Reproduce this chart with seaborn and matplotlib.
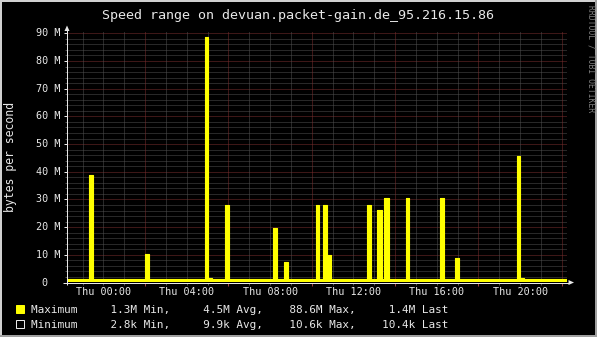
import numpy as np
import pandas as pd
import matplotlib
matplotlib.use("Agg")
import matplotlib.pyplot as plt
from matplotlib.patches import Rectangle, Polygon
import seaborn as sns

# ---------------- data (hours relative to Thu 00:00, values in MB/s) ----------------
title = "Speed range on devuan.packet-gain.de_95.216.15.86"
ylabel = "bytes per second"
x_tick_hours = [0, 4, 8, 12, 16, 20]
x_tick_labels = ["Thu 00:00", "Thu 04:00", "Thu 08:00", "Thu 12:00", "Thu 16:00", "Thu 20:00"]
y_tick_values = [0, 10, 20, 30, 40, 50, 60, 70, 80, 90]
y_tick_labels = ["0", "10 M", "20 M", "30 M", "40 M", "50 M", "60 M", "70 M", "80 M", "90 M"]

baseline_max = 1.3
spike_start = [-0.68, 1.99, 4.87, 5.03, 5.83, 8.15, 8.67, 10.19, 10.54, 10.72,
               12.66, 13.14, 13.48, 14.51, 16.17, 16.87, 19.84, 20.00]
spike_end = [-0.49, 2.18, 5.03, 5.21, 6.02, 8.34, 8.87, 10.36, 10.72, 10.91,
             12.84, 13.37, 13.71, 14.68, 16.36, 17.08, 20.00, 20.19]
spike_value = [38.8, 10.3, 88.6, 1.8, 28.0, 19.8, 7.4, 28.0, 28.0, 9.9,
               28.0, 26.2, 30.5, 30.5, 30.5, 8.8, 45.8, 1.8]
minimum_level = 0.0104  # ~10k

legend_rows = [
    ("Maximum", "     1.3M Min,     4.5M Avg,    88.6M Max,     1.4M Last"),
    ("Minimum", "     2.8k Min,     9.9k Avg,    10.6k Max,    10.4k Last"),
]
watermark = "RRDTOOL / TOBI OETIKER"

# ---------------- layout ----------------
W, H = 597, 337
X0, X1 = 67, 567          # plot area in px
YT, YB = 32, 282.5        # plot area top/bottom in px (from top)
XMIN, XMAX = -1.75, 22.25
YMAX = (YB - YT) / 27.69 * 10

YELLOW = "#FFFF00"
WHITE = "#e8e8e8"
MINOR = "#505050"
MAJOR = "#7a2e2e"
MONO = "DejaVu Sans Mono"

sns.set_theme(style="dark", rc={"axes.facecolor": "black", "figure.facecolor": "black"})
plt.rcParams["font.family"] = [MONO, "DejaVu Sans"]
plt.rcParams["lines.scale_dashes"] = False

fig = plt.figure(figsize=(W / 100, H / 100), dpi=100)
fig.patch.set_facecolor("black")
ax = fig.add_axes([X0 / W, (H - YB) / H, (X1 - X0) / W, (YB - YT) / H])
ax.set_facecolor("black")
ax.set_xlim(XMIN, XMAX)
ax.set_ylim(0, YMAX)
for s in ax.spines.values():
    s.set_visible(False)
ax.grid(False)


def ax_px(px, py):
    return ((px - X0) / (X1 - X0), (YB - py) / (YB - YT))


# ---------------- grid (dotted, 1px on / 1px off) ----------------
DOT = (0, (0.72, 0.72))
for yv in np.arange(2, 91, 2):
    major = (yv % 10 == 0)
    ax.axhline(yv, color=MAJOR if major else MINOR, lw=0.72, ls=DOT, zorder=1)
for hv in range(-1, 23):
    major = ((hv - 2) % 4 == 0)
    ax.axvline(hv, color=MAJOR if major else MINOR, lw=0.72, ls=DOT, zorder=1)

# ---------------- data series ----------------
t = [XMIN]
v = [baseline_max]
for s, e, val in zip(spike_start, spike_end, spike_value):
    t += [s, e]
    v += [val, baseline_max]
t.append(XMAX)
v.append(baseline_max)
df = pd.DataFrame({"hour": t, "value": v})

ax.fill_between(df["hour"], df["value"], step="post", color=YELLOW, lw=0, zorder=2)
sns.lineplot(data=df, x="hour", y="value", sort=False, estimator=None,
             drawstyle="steps-post", color=YELLOW, lw=0.8, ax=ax, zorder=3)
ax.fill_between([XMIN, XMAX], [minimum_level, minimum_level], color="black", lw=0, zorder=3)
ax.set_xlabel("")
ax.set_ylabel("")

# ---------------- ticks ----------------
ax.set_xticks([2, 6, 10, 14, 18, 22])
ax.set_xticks(list(range(-1, 23)), minor=True)
ax.set_yticks(y_tick_values)
ax.set_yticks(list(range(0, 91, 2)), minor=True)
ax.tick_params(axis="x", which="major", direction="out", length=3 * 0.72, width=0.72,
               color="#a04040", labelbottom=False, bottom=True)
ax.tick_params(axis="x", which="minor", direction="out", length=2 * 0.72, width=0.72,
               color=MINOR, bottom=True)
ax.tick_params(axis="y", which="major", direction="out", length=3 * 0.72, width=0.72,
               color=WHITE, labelleft=False, left=True)
ax.tick_params(axis="y", which="minor", direction="out", length=2 * 0.72, width=0.72,
               color=MINOR, left=True)

# axis lines + arrows
ax.plot([ax_px(X0, 0)[0]] * 2, [ax_px(0, 285)[1], ax_px(0, 29)[1]], transform=ax.transAxes,
        color=WHITE, lw=0.72, clip_on=False, zorder=5, solid_capstyle="butt")
ax.plot([ax_px(63, 0)[0], ax_px(570, 0)[0]], [0, 0], transform=ax.transAxes,
        color=WHITE, lw=0.72, clip_on=False, zorder=5, solid_capstyle="butt")
ax.add_patch(Polygon([ax_px(67, 25.5), ax_px(64.5, 31), ax_px(69.5, 31)], closed=True,
                     transform=ax.transAxes, color=WHITE, clip_on=False, zorder=6, lw=0))
ax.add_patch(Polygon([ax_px(574, 282.5), ax_px(568.5, 280), ax_px(568.5, 285)], closed=True,
                     transform=ax.transAxes, color=WHITE, clip_on=False, zorder=6, lw=0))

# tick labels
ytr = ax.get_yaxis_transform()
for yv, lab in zip(y_tick_values, y_tick_labels):
    xr = 60.5 if yv > 0 else 47.0
    ax.text((xr - X0) / (X1 - X0), yv, lab, transform=ytr, ha="right", va="center",
            fontsize=7.3, color=WHITE, family=MONO)
xtr = ax.get_xaxis_transform()
for hv, lab in zip(x_tick_hours, x_tick_labels):
    ax.text(hv, ax_px(0, 295)[1], lab, transform=xtr, ha="center", va="baseline",
            fontsize=7.3, color=WHITE, family=MONO)

# title, y label, watermark
fig.text(298 / W, 1 - 18.5 / H, title, ha="center", va="baseline", fontsize=9.6,
         color=WHITE, family=MONO)
fig.text(11 / W, 1 - 157 / H, ylabel, ha="center", va="center", rotation=90,
         fontsize=8.3, color=WHITE, family=MONO)
fig.text(591.5 / W, 1 - 58.5 / H, watermark, ha="center", va="center", rotation=-90,
         fontsize=5.8, color="#808080", family=MONO)

# legend
box_colors = [YELLOW, "black"]
baselines = [313.3, 327.7]
box_tops = [305, 320]
for (name, stats), bl, bt, bc in zip(legend_rows, baselines, box_tops, box_colors):
    fig.add_artist(Rectangle((16 / W, 1 - (bt + 8) / H), 8 / W, 8 / H, transform=fig.transFigure,
                             facecolor=bc, edgecolor=WHITE if bc == "black" else bc, lw=0.72))
    fig.text(31 / W, 1 - bl / H, name + stats, ha="left", va="baseline", fontsize=7.95,
             color=WHITE, family=MONO)

# frame (3D-ish border)
light, dark = "#d0d0d0", "#a0a0a0"
fig.add_artist(Rectangle((0, 1 - 2 / H), 1, 2 / H, transform=fig.transFigure, color=light, lw=0))
fig.add_artist(Rectangle((0, 0), 2 / W, 1, transform=fig.transFigure, color=light, lw=0))
fig.add_artist(Rectangle((0, 0), 1, 2 / H, transform=fig.transFigure, color=dark, lw=0))
fig.add_artist(Rectangle((1 - 2 / W, 0), 2 / W, 1, transform=fig.transFigure, color=dark, lw=0))

fig.savefig("out.png", dpi=100, facecolor="black")
